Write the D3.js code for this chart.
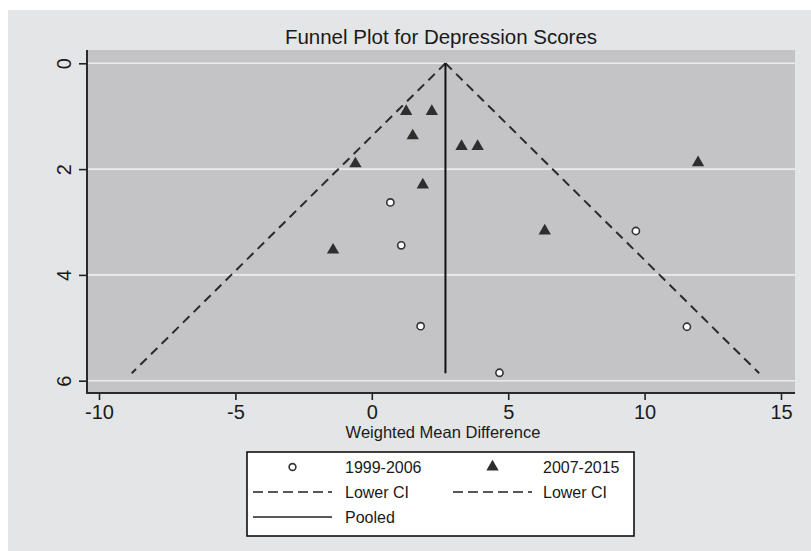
<!DOCTYPE html>
<html>
<head>
<meta charset="utf-8">
<script src="https://cdn.jsdelivr.net/npm/d3@7"></script>
<style>
  body { margin: 0; background: #ffffff; }
  text { font-family: "Liberation Sans", Arial, sans-serif; fill: #1a1a1a; }
</style>
</head>
<body>
<script>
//data
var xTicks = [-10, -5, 0, 5, 10, 15];
var yTicks = [0, 2, 4, 6];

//1999-2006 studies (open circles)
var earlyWMD = [0.68, 1.08, 1.79, 9.68, 11.55, 4.68];
var earlySE  = [2.63, 3.44, 4.97, 3.17, 4.98, 5.85];

//2007-2015 studies (filled triangles)
var lateWMD = [1.26, 2.20, 1.50, 3.29, 3.88, -0.60, 1.87, 11.96, 6.34, -1.42];
var lateSE  = [0.91, 0.91, 1.37, 1.57, 1.57, 1.90, 2.30, 1.88, 3.17, 3.53];

//pooled estimate and the two CI lines (apex, bottom end)
var pooledX = [2.7, 2.7];
var pooledSE = [0, 5.86];
var lowerCIX = [2.7, -8.8];
var upperCIX = [2.7, 14.2];
var ciSE = [0, 5.86];

var legendLabels = ["1999-2006", "2007-2015", "Lower CI", "Lower CI", "Pooled"];

window.onload = drawChart();

function drawChart(){

    var width = 811,
        height = 551;

    var svg = d3.select("body")
        .append("svg")
        .attr("width", width)
        .attr("height", height);

    //outer light grey panel
    svg.append("rect")
        .attr("x", 8).attr("y", 10)
        .attr("width", width - 8).attr("height", height - 10)
        .attr("fill", "#e4e5e7");

    //plot region
    var plot = { left: 87, right: 795, top: 50, bottom: 393 };

    var x = d3.scaleLinear().domain([-10, 15]).range([99, 781]);
    var y = d3.scaleLinear().domain([0, 6]).range([63.3, 380.7]);

    svg.append("rect")
        .attr("x", plot.left).attr("y", plot.top)
        .attr("width", plot.right - plot.left)
        .attr("height", plot.bottom - plot.top)
        .attr("fill", "#c4c4c6");

    //white gridlines
    svg.selectAll(".grid")
        .data(yTicks)
        .enter()
        .append("line")
        .attr("class", "grid")
        .attr("x1", plot.left).attr("x2", plot.right)
        .attr("y1", function(d){ return y(d); })
        .attr("y2", function(d){ return y(d); })
        .attr("stroke", "#ececec")
        .attr("stroke-width", 1.6);

    //axes (plain hyphen minus like the original)
    var fmt = function(d){ return String(d); };

    var xAxis = svg.append("g")
        .attr("transform", "translate(0," + plot.bottom + ")")
        .call(d3.axisBottom(x).tickValues(xTicks).tickFormat(fmt)
            .tickSize(7).tickPadding(5).tickSizeOuter(0));

    var yAxis = svg.append("g")
        .attr("transform", "translate(" + plot.left + ",0)")
        .call(d3.axisLeft(y).tickValues(yTicks).tickFormat(fmt)
            .tickSize(8).tickPadding(6).tickSizeOuter(0));

    [xAxis, yAxis].forEach(function(ax){
        ax.select(".domain").remove();
        ax.selectAll(".tick line").attr("stroke", "#222").attr("stroke-width", 1.6);
        ax.selectAll(".tick text")
            .attr("fill", "#1a1a1a")
            .style("font-size", "20px")
            .style("font-family", "'Liberation Sans', Arial, sans-serif");
    });

    //rotated y tick labels
    yAxis.selectAll(".tick text")
        .attr("text-anchor", "middle")
        .attr("dy", null)
        .attr("x", null)
        .attr("transform", "translate(-16,0) rotate(-90)");

    //axis lines on left and bottom
    svg.append("path")
        .attr("d", "M" + plot.left + "," + plot.top + "V" + plot.bottom + "H" + plot.right)
        .attr("fill", "none")
        .attr("stroke", "#2a2a2a")
        .attr("stroke-width", 2);

    //funnel lines
    var line = d3.line()
        .x(function(d){ return x(d[0]); })
        .y(function(d){ return y(d[1]); });

    [lowerCIX, upperCIX].forEach(function(cx){
        svg.append("path")
            .datum(d3.zip(cx, ciSE))
            .attr("d", line)
            .attr("fill", "none")
            .attr("stroke", "#2a2a2a")
            .attr("stroke-width", 2)
            .attr("stroke-dasharray", "9,6");
    });

    svg.append("path")
        .datum(d3.zip(pooledX, pooledSE))
        .attr("d", line)
        .attr("fill", "none")
        .attr("stroke", "#111")
        .attr("stroke-width", 2);

    //study markers
    var tri = d3.symbol().type(d3.symbolTriangle).size(66);

    svg.selectAll(".late")
        .data(d3.zip(lateWMD, lateSE))
        .enter()
        .append("path")
        .attr("class", "late")
        .attr("d", tri)
        .attr("transform", function(d){ return "translate(" + x(d[0]) + "," + y(d[1]) + ")"; })
        .attr("fill", "#2e2e2e");

    svg.selectAll(".early")
        .data(d3.zip(earlyWMD, earlySE))
        .enter()
        .append("circle")
        .attr("class", "early")
        .attr("cx", function(d){ return x(d[0]); })
        .attr("cy", function(d){ return y(d[1]); })
        .attr("r", 3.6)
        .attr("fill", "#ffffff")
        .attr("stroke", "#333")
        .attr("stroke-width", 1.6);

    //titles
    svg.append("text")
        .attr("x", 441).attr("y", 44)
        .attr("text-anchor", "middle")
        .style("font-size", "20.5px")
        .text("Funnel Plot for Depression Scores");

    svg.append("text")
        .attr("x", 443).attr("y", 438)
        .attr("text-anchor", "middle")
        .style("font-size", "16.5px")
        .text("Weighted Mean Difference");

    //legend
    var lg = svg.append("g");
    lg.append("rect")
        .attr("x", 247).attr("y", 452)
        .attr("width", 387).attr("height", 84)
        .attr("fill", "#ffffff")
        .attr("stroke", "#111")
        .attr("stroke-width", 1.6);

    var rows = [467, 492, 517];
    var cols = [{ s0: 253, s1: 332, tx: 345 }, { s0: 453, s1: 532, tx: 543 }];
    var items = [
        { kind: "circle", col: 0, row: 0 },
        { kind: "triangle", col: 1, row: 0 },
        { kind: "dash", col: 0, row: 1 },
        { kind: "dash", col: 1, row: 1 },
        { kind: "solid", col: 0, row: 2 }
    ];

    items.forEach(function(it, i){
        var c = cols[it.col], ry = rows[it.row], mid = (c.s0 + c.s1) / 2;
        if (it.kind === "circle") {
            lg.append("circle").attr("cx", mid).attr("cy", ry).attr("r", 3.4)
                .attr("fill", "#fff").attr("stroke", "#333").attr("stroke-width", 1.6);
        } else if (it.kind === "triangle") {
            lg.append("path").attr("d", tri).attr("fill", "#2e2e2e")
                .attr("transform", "translate(" + mid + "," + ry + ")");
        } else {
            lg.append("line").attr("x1", c.s0).attr("x2", c.s1)
                .attr("y1", ry).attr("y2", ry)
                .attr("stroke", "#222").attr("stroke-width", 1.6)
                .attr("stroke-dasharray", it.kind === "dash" ? "10,5" : null);
        }
        lg.append("text")
            .attr("x", c.tx).attr("y", ry + 5.5)
            .style("font-size", "16px")
            .text(legendLabels[i]);
    });
}
</script>
</body>
</html>
